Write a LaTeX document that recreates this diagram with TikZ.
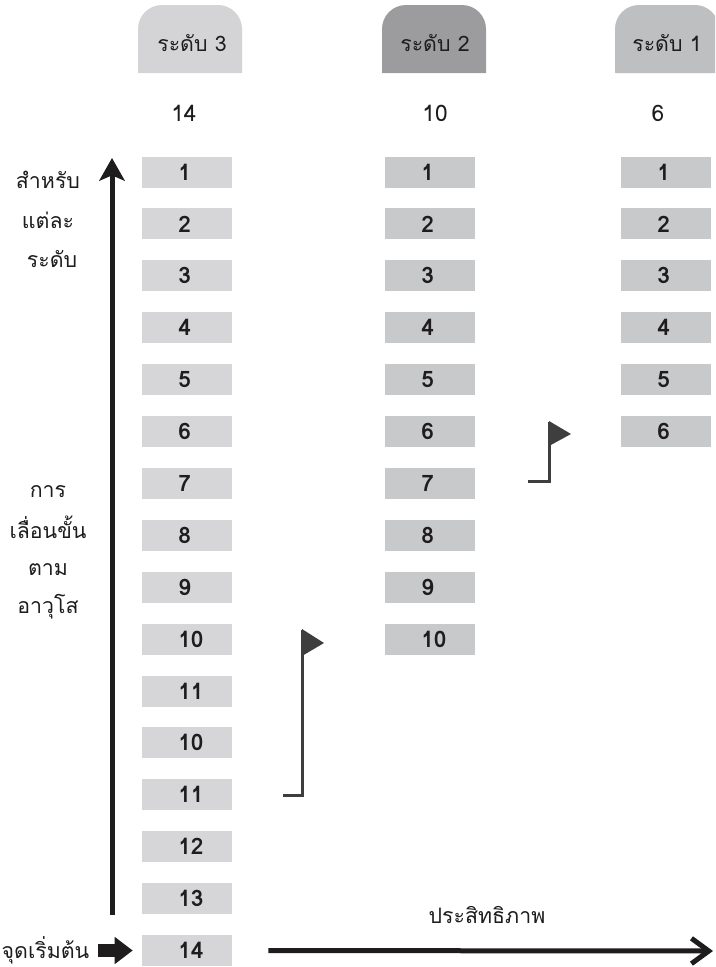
\documentclass[tikz,border=0pt]{standalone}
\usepackage{fontspec}
\setmainfont[Script=Thai]{Loma}
\usetikzlibrary{arrows.meta}

% colours of the three levels
\definecolor{tabthree}{RGB}{212,212,214}
\definecolor{tabtwo}{RGB}{156,156,158}
\definecolor{tabone}{RGB}{190,191,193}
\definecolor{boxthree}{RGB}{214,214,216}
\definecolor{boxtwo}{RGB}{200,201,203}
\definecolor{flaggrey}{RGB}{62,62,62}
\definecolor{ink}{RGB}{30,28,29}

\tikzset{
  numbox/.style={minimum width=67.5pt, minimum height=23.25pt, inner sep=0pt,
    text=ink, font=\fontsize{17}{18}\selectfont\bfseries},
  tablabel/.style={text=ink, font=\fontsize{16}{18}\selectfont},
  countlabel/.style={text=ink, font=\fontsize{17}{18}\selectfont},
  sidelabel/.style={anchor=base, text=ink, font=\fontsize{16}{18}\selectfont},
  mainarrow/.style={draw=ink, line width=3.75pt},
  flagpole/.style={draw=flaggrey, line width=2.25pt, line join=miter}
}

\begin{document}
\begin{tikzpicture}[x=0.75pt, y=-0.75pt]
\clip (0,0) rectangle (715,967);

% Level tabs with round top corners
\foreach \xa/\xb/\col in {138/242/tabthree, 382/486/tabtwo, 615/719/tabone}
  \fill[\col] (\xa,73) -- (\xa,29) arc[start angle=180, end angle=270, radius=24]
    -- ({\xb-24},5) arc[start angle=270, end angle=360, radius=24] -- (\xb,73) -- cycle;
\node[tablabel] (h3) at (192,43) {ระดับ 3};
\node[tablabel] (h2) at (435,43) {ระดับ 2};
\node[tablabel] (h1) at (667,43) {ระดับ 1};

% Number of steps in each level
\node[countlabel] (n3) at (184,113) {14};
\node[countlabel] (n2) at (435,113) {10};
\node[countlabel] (n1) at (658,113) {6};

% Step boxes
\foreach \v [count=\i] in {1,2,3,4,5,6,7,8,9,10,11,10,11,12,13,14}
  \node[numbox, fill=boxthree] (c3b\i) at (187,{172+51.9*(\i-1)}) {\makebox[13pt][l]{\v}};
\foreach \i in {1,...,10}
  \node[numbox, fill=boxtwo] (c2b\i) at (430,{172+51.9*(\i-1)}) {\makebox[13pt][l]{\i}};
\foreach \i in {1,...,6}
  \node[numbox, fill=boxtwo] (c1b\i) at (666,{172+51.9*(\i-1)}) {\makebox[13pt][l]{\i}};

% Side texts
\node[sidelabel] (lbla) at (48,188) {สำหรับ};
\node[sidelabel] (lblb) at (48,228) {แต่ละ};
\node[sidelabel] (lblc) at (52,267) {ระดับ};
\node[sidelabel] (lbld) at (48,497) {การ};
\node[sidelabel] (lble) at (48,538) {เลื่อนขั้น};
\node[sidelabel] (lblf) at (48,575) {ตาม};
\node[sidelabel] (lblg) at (48,613) {อาวุโส};
\node[sidelabel, anchor=base east] (startlbl) at (94,958) {จุดเริ่มต้น};
\node[sidelabel] (effect) at (487,923) {ประสิทธิภาพ};

% Arrows
\coordinate (vbot) at (112,915);
\coordinate (vtop) at (112,158);
\draw[mainarrow, -{Stealth[length=17pt, width=19pt, inset=4pt]}] (vbot) -- (vtop);
\coordinate (hend) at (713,951);
\draw[mainarrow, shorten <=27pt, -{Straight Barb[length=13pt, width=19pt]}] (c3b16.east) -- (hend);
\draw[draw=ink, line width=9.75pt, shorten <=3pt, shorten >=6.75pt,
  -{Triangle[length=13.5pt, width=19.5pt]}] (startlbl.east |- c3b16) -- (c3b16.west);

% Flags
\draw[flagpole] (283,795) -- (302,795) -- (302,630);
\fill[flaggrey] (302,629) -- (324,643) -- (302,656) -- cycle;
\draw[flagpole] (528,481) -- (549,481) -- (549,422);
\fill[flaggrey] (549,421) -- (571,434) -- (549,446) -- cycle;
\end{tikzpicture}
\end{document}
